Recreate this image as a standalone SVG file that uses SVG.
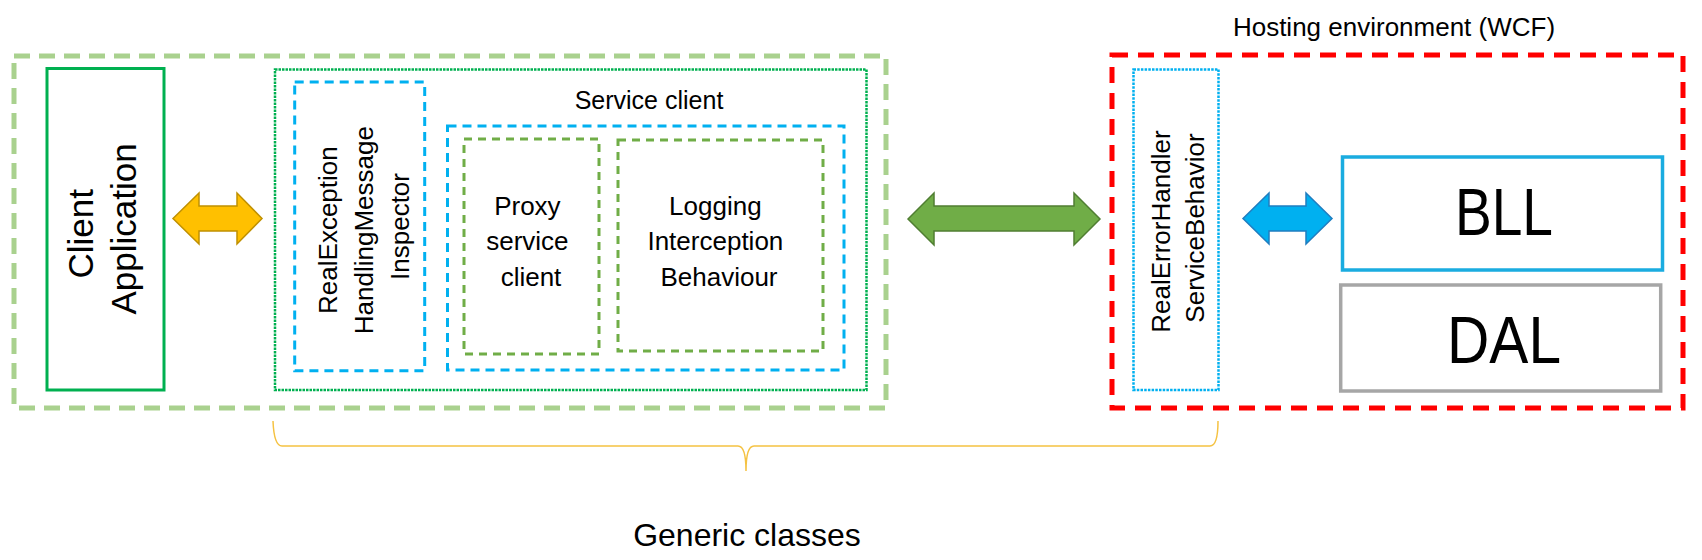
<svg xmlns="http://www.w3.org/2000/svg" width="1702" height="560" viewBox="0 0 1702 560">
<style>
  text { font-family: "Liberation Sans", Arial, sans-serif; fill: #000; }
  .outer-green { fill: none; stroke: #A9D18E; stroke-width: 5; stroke-dasharray: 16 9; }
  .outer-red { fill: none; stroke: #FF0000; stroke-width: 5; stroke-dasharray: 16 10; }
  .solid-green { fill: none; stroke: #00B050; stroke-width: 3; }
  .dotted-green { fill: none; stroke: #00B050; stroke-width: 2.5; stroke-dasharray: 2.5 1; }
  .dotted-blue { fill: none; stroke: #00B0F0; stroke-width: 2.5; stroke-dasharray: 2.5 1.2; }
  .dashed-blue { fill: none; stroke: #00B0F0; stroke-width: 3; stroke-dasharray: 9 6; }
  .dashed-olive { fill: none; stroke: #70AD47; stroke-width: 3; stroke-dasharray: 8 6; }
  .solid-blue { fill: none; stroke: #1AACE0; stroke-width: 3.5; }
  .solid-gray { fill: none; stroke: #A6A6A6; stroke-width: 3.5; }
  .t26 { font-size: 26px; }
  .mid { text-anchor: middle; }
</style>

<g id="client-side-container">
  <rect class="outer-green" x="14" y="56" width="872" height="352"/>
</g>

<g id="client-application">
  <rect class="solid-green" x="47" y="68.5" width="117" height="321.5"/>
  <text class="mid" font-size="35" transform="translate(0,229) rotate(-90)">
    <tspan x="0" y="93">Client</tspan>
    <tspan x="0" y="136">Application</tspan>
  </text>
</g>

<g id="generic-client-container">
  <rect class="dotted-green" x="275" y="69.5" width="591.5" height="320.5"/>
</g>

<g id="real-exception-inspector">
  <rect class="dashed-blue" x="294.7" y="82" width="130" height="288.7"/>
  <text class="mid t26" transform="translate(0,226.5) rotate(-90)">
    <tspan x="0" y="337">RealException</tspan>
    <tspan x="0" y="373">HandlingMessage</tspan>
    <tspan x="0" y="409">Inspector</tspan>
  </text>
</g>

<g id="service-client">
  <text class="mid" font-size="25" x="649" y="109">Service client</text>
  <rect class="dashed-blue" x="447.5" y="126" width="396.5" height="244"/>
</g>

<g id="proxy-service-client">
  <rect class="dashed-olive" x="464" y="139" width="135" height="215"/>
  <text class="mid t26">
    <tspan x="531" y="215">Proxy</tspan>
    <tspan x="531" y="250">service</tspan>
    <tspan x="531" y="286">client</tspan>
  </text>
</g>

<g id="logging-interception-behaviour">
  <rect class="dashed-olive" x="618" y="140" width="205" height="211"/>
  <text class="mid t26">
    <tspan x="719" y="215">Logging</tspan>
    <tspan x="719" y="250">Interception</tspan>
    <tspan x="719" y="286">Behaviour</tspan>
  </text>
</g>

<g id="hosting-environment">
  <text class="mid t26" x="1394" y="36">Hosting environment (WCF)</text>
  <rect class="outer-red" x="1112" y="55" width="571" height="353"/>
</g>

<g id="real-error-handler">
  <rect class="dotted-blue" x="1133.5" y="69.5" width="85" height="320.5"/>
  <text class="mid t26" transform="translate(0,228) rotate(-90)">
    <tspan x="0" y="1170">RealErrorHandler</tspan>
    <tspan x="0" y="1204">ServiceBehavior</tspan>
  </text>
</g>

<g id="bll">
  <rect class="solid-blue" x="1342.5" y="157" width="320" height="113"/>
  <text class="mid" font-size="66" x="1504" y="235" textLength="98" lengthAdjust="spacingAndGlyphs">BLL</text>
</g>

<g id="dal">
  <rect class="solid-gray" x="1340.7" y="285" width="320" height="106"/>
  <text class="mid" font-size="66" x="1504" y="363" textLength="114" lengthAdjust="spacingAndGlyphs">DAL</text>
</g>

<g id="generic-classes">
  <path d="M273,421 Q274,446 282,446 L738,446 Q746,446 746,471 Q746,446 754,446 L1210,446 Q1218,446 1218,421" fill="none" stroke="#F5C242" stroke-width="1.5"/>
  <text class="mid" font-size="32" x="747" y="546">Generic classes</text>
</g>

<g id="connectors">
  <polygon points="173,218.5 199,193 199,206 237,206 237,193 262,218.5 237,244 237,231 199,231 199,244" fill="#FFC000" stroke="#C09000" stroke-width="1.5" stroke-linejoin="miter"/>
  <polygon points="908,219 934,193 934,206 1074,206 1074,193 1100,219 1074,245 1074,231 934,231 934,245" fill="#70AD47" stroke="#507E32" stroke-width="1.5"/>
  <polygon points="1243,218.5 1269,193 1269,206 1306,206 1306,193 1332,218.5 1306,244 1306,231 1269,231 1269,244" fill="#00B0F0" stroke="#1F7DC0" stroke-width="1.5"/>
</g>
</svg>
